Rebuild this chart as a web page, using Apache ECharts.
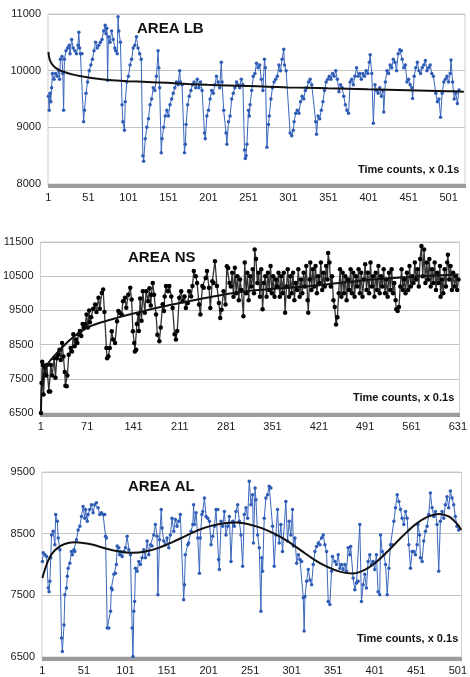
<!DOCTYPE html>
<html>
<head>
<meta charset="utf-8">
<script src="https://cdn.jsdelivr.net/npm/echarts@6/dist/echarts.min.js"></script>
<style>
html,body{margin:0;padding:0;background:#fff;}
#chart{width:470px;height:677px;}
</style>
</head>
<body>
<div id="chart"></div>
<script>
// ---- Panel 1: AREA LB ----
const lbCount = 521;
const lbTitle = 'AREA LB';
const lbYTicks = [8000, 9000, 10000, 11000];
const lbPoints = [[1,9550],[2,9300],[3,9600],[4,9450],[5,9700],[6,9950],[8,9850],[10,9950],[12,9900],[14,10000],[15,9850],[16,10200],[18,10250],[19,9950],[20,9300],[21,10200],[23,10350],[25,10400],[27,10450],[28,10300],[30,10550],[32,10400],[34,10350],[36,10300],[38,10450],[39,10680],[40,10400],[41,10300],[43,10300],
[45,9100],[46,9300],[48,9600],[50,9800],[52,10000],[54,10100],[56,10200],[58,10350],[60,10500],[62,10400],[64,10450],[66,10500],[68,10550],[70,10700],[72,10800],[73,10650],[74,10750],[75,9830],[76,10600],[78,10500],[80,10700],[82,10550],[84,10400],[85,10350],[87,10300],[88,10950],[89,10700],[91,10500],
[93,9400],[94,9100],[96,8950],[97,9450],[99,9800],[101,9900],[103,10100],[105,10200],[107,10400],[109,10450],[111,10600],[113,10400],[115,10300],[117,10200],
[119,8500],[120,8400],[122,8800],[124,9000],[126,9150],[128,9400],[130,9500],[132,9700],[134,9650],[136,9900],[138,10350],[139,10050],[140,9700],
[142,8550],[143,8800],[145,9000],[147,9200],[149,9300],[151,9200],[153,9400],[155,9500],[157,9600],[159,9700],[161,9800],[163,9750],[165,10000],[166,9800],[168,9750],
[171,8550],[172,8700],[173,9050],[175,9400],[177,9550],[179,9650],[181,9750],[183,9800],[185,9700],[187,9850],[189,9700],[191,9800],[193,9650],
[196,8900],[197,8800],[199,9200],[201,9300],[203,9500],[205,9650],[207,9600],[209,9750],[211,9900],[213,9800],[215,9700],[217,10150],[218,9800],[220,9300],
[223,8900],[224,8700],[226,9100],[228,9200],[230,9500],[232,9600],[234,9700],[236,9800],[238,9750],[240,9700],
[242,9850],[244,9750],[246,8600],[247,8450],[248,8500],[249,8700],[251,9300],[252,9200],[253,9400],[255,9650],[257,9900],[259,9950],[261,10130],[263,10050],[265,10100],[267,9850],[269,9650],[271,10200],[272,10050],[274,8650],[276,9050],[277,9200],[279,9500],[281,9700],[283,9800],[285,9850],[287,9900],[289,10100],[291,10000],[293,10200],[295,10380],[296,10100],[298,10000],
[303,8900],[305,8850],[307,8950],[308,9100],[310,9250],[312,9300],[314,9250],[316,9450],[318,9550],[320,9500],[322,9650],[324,9700],[326,9800],[328,9850],[330,9750],
[335,9100],[336,8880],[338,9200],[340,9150],[342,9300],[344,9450],[346,9650],[348,9800],[350,9850],[352,9900],[354,9850],[356,9950],[358,9900],[360,10000],[362,9850],[364,9630],
[366,9750],[368,9700],[370,9550],[372,9400],[374,9300],[376,9250],[378,9800],[380,9850],[382,9750],[384,9900],[386,10050],[388,9900],[390,9950],[392,9850],[394,9950],[396,9900],[398,10000],[400,9950],[402,10150],[403,10280],[405,9950],
[407,9070],[409,9750],[411,9650],[413,9600],[415,9700],[417,9550],[419,9650],[420,9270],[422,9800],[424,10000],[426,9950],[428,10100],[430,10050],[432,10200],[434,10150],[436,10000],[438,10300],[440,10370],[442,10350],[443,10200],[445,10050],[447,10100],
[449,9800],[451,9850],[453,9750],[455,9700],[456,9510],[458,9900],[460,10050],[462,10150],[464,10000],[466,9950],[468,10050],[470,10100],[472,10180],[474,10000],[476,10050],[478,10100],[480,9950],[482,9900],
[485,9600],[487,9450],[489,9500],[491,9180],[493,9600],[495,9800],[497,9850],[499,9900],[501,9800],[503,9950],[504,10190],[506,9800],
[508,9500],[510,9600],[512,9420],[514,9660]];
const lbTrend = [[1,10330],[2,10230],[4,10150],[7,10090],[10,10050],[15,10010],[20,9980],[32,9930],[45,9895],[60,9860],[80,9830],[100,9815],[125,9800],[150,9785],[175,9765],[200,9750],[225,9738],[250,9728],[275,9718],[300,9705],[325,9697],[350,9688],[375,9680],[400,9670],[425,9662],[450,9655],[475,9647],[500,9638],[520,9630]];

// ---- Panel 2: AREA NS ----
const nsCount = 633;
const nsTitle = 'AREA NS';
const nsYTicks = [6500, 7500, 8500, 9500, 10500, 11500];
const nsPoints = [[1,6500],[2,7380],[3,8000],[4,7900],[5,7040],[7,7820],[9,7600],[10,7900],[13,7130],[15,7130],[16,7900],[18,7600],[21,8100],[23,7530],[25,8100],[27,8200],[29,8350],[31,8050],[33,8550],[35,8150],[37,7700],[38,7300],[40,7280],[41,7600],[43,8200],[46,8400],[48,8300],[50,8800],[52,8450],[54,8650],[56,8550],[58,8800],[60,8900],[62,8750],[64,9100],[66,9000],[68,9100],[70,9380],[72,9000],[74,9500],[75,9150],[77,9300],[80,9550],[83,9670],[85,9450],[88,9870],[90,9550],[93,10010],[95,10110],[97,9450],
[100,8400],[101,8100],[103,8160],[105,8400],[108,8890],[110,8650],[113,8550],[116,9180],[118,9480],[120,9430],[123,9380],[125,9770],[128,9870],[130,9580],[133,9960],[136,10160],[138,9820],
[140,8890],[142,8550],[143,8300],[145,8350],[146,9100],[148,9400],[149,8900],[151,9850],[153,9200],[155,10060],[158,9430],[160,10060],[163,9770],[165,10150],[167,9640],[168,9960],[170,10300],[172,9960],
[175,9380],[177,8790],[180,8600],[182,9000],[185,9680],[187,9480],[188,9910],[190,10210],[193,10060],[195,10210],[198,9910],[200,9570],
[203,8800],[205,8650],[207,8900],[210,9870],[213,10060],[215,9770],[218,9910],[220,9570],[223,9720],[225,10060],[228,9910],[230,10210],[232,10650],[235,10500],[237,10300],[240,9670],[242,9380],[245,10210],[247,10160],[250,10450],[252,10650],[255,10160],[257,9570],[260,10350],[262,10300],[264,10940],[267,10210],[270,9720],[272,9280],[274,9520],[277,10060],[280,9670],[282,10790],[284,10740],
[286,10300],[288,10200],[290,10600],[292,9900],[294,10750],[296,10000],[298,10500],[300,9800],[302,10400],[304,10100],[307,9330],[309,10900],[311,10000],[313,10600],[315,9800],[317,10500],[319,10200],[321,10700],[323,10000],[324,11280],[326,11000],[328,10300],[330,10600],[332,9900],[334,10700],[336,9530],[338,10300],[340,10500],[342,9900],[344,10600],[346,10100],[348,10800],[350,10000],[352,10500],[354,9900],[356,10400],[358,10200],[360,10600],[362,9900],[364,10500],[366,10000],[368,10600],[370,9430],[372,10200],[374,10700],[376,9900],[378,10500],[380,10000],[382,10600],[384,9800],[386,10300],[388,10100],[390,10700],[392,9900],[394,10400],[396,10000],[398,10600],[400,10200],[402,10800],[404,9800],[405,9430],[407,10400],[408,10900],[410,10100],[412,10700],[414,10200],[416,10800],[418,10000],[420,10500],[422,10300],[424,10900],[426,10100],[428,10600],[430,10200],[432,10800],[434,10400],[435,11180],[437,10900],[439,10200],[441,10500],[443,9800],[445,9600],[447,9090],[449,9300],[451,10000],[453,10700],[455,9900],[457,10600],[459,10000],[461,10500],[463,9800],[465,10400],[467,10100],[469,10700],[471,10000],[473,10600],[475,9900],[477,10500],[479,10200],[481,10700],[483,10000],[485,10600],[487,9900],[489,10400],[491,10850],[493,10100],[495,10600],[497,10000],[499,10900],[501,10200],[503,10500],[505,9900],[507,10600],[509,10100],[511,10800],[513,10000],[515,10500],[517,10200],[519,10700],[521,10000],[523,10400],[525,9900],[527,10600],[529,10100],[531,10700],[533,10000],[535,10300],[537,9800],[538,9530],[540,9480],[542,9600],[544,10200],[546,10700],[548,10100],[550,10400],[552,10000],[554,10600],[556,10100],[558,10800],[560,10200],[562,10500],[564,10300],[566,10900],[568,10400],[570,10700],[572,10200],[574,11000],[576,11380],[578,10500],[580,11280],[582,10300],[584,10900],[586,10400],[588,11000],[590,10200],[592,10700],[594,10300],[596,10900],[598,10100],[600,10600],[602,10300],[604,10800],[605,9900],[607,10400],[609,10000],[611,10700],[613,10200],[615,10900],[616,11130],[618,10400],[620,10800],[622,10100],[624,10600],[626,10200],[628,10500],[630,10100],[632,10400]];
const nsTrend = [[1,6500],[2,7150],[3,7400],[5,7600],[8,7800],[12,7950],[18,8100],[25,8250],[32,8400],[40,8550],[50,8720],[60,8860],[75,9030],[90,9140],[110,9250],[130,9360],[150,9450],[170,9550],[200,9670],[230,9790],[260,9900],[290,10000],[320,10080],[350,10130],[380,10170],[410,10210],[440,10280],[470,10340],[500,10400],[530,10440],[560,10480],[590,10510],[632,10550]];

// ---- Panel 3: AREA AL ----
const alCount = 505;
const alTitle = 'AREA AL';
const alYTicks = [6500, 7500, 8500, 9500];
const alPoints = [[1,8050],[2,8190],[4,8160],[6,8130],[8,7620],[9,7560],[10,7730],[11,8110],[12,8480],[14,8540],[16,8320],[17,8810],[19,8700],[20,8430],[22,8240],
[24,6810],[25,6590],[27,7020],[28,7510],[30,7620],[31,7810],[32,7940],[34,8020],[36,8210],[37,8160],[39,8240],[40,8210],[42,8400],[44,8560],[46,8620],[48,8780],[50,8940],[52,8750],[53,8890],[55,8700],[56,8810],[58,8890],[60,8970],[62,8840],[64,8970],[66,9000],[68,8920],[70,8810],[72,8840],[74,8810],[76,8810],[77,8460],[78,8430],
[79,6970],[81,6970],[83,7240],[84,7620],[85,7590],[87,7840],[89,7860],[90,8000],[91,8300],[93,8270],[94,8160],[95,8210],[97,8130],[99,8210],[101,8270],[103,8460],[105,8240],[107,8160],
[109,6970],[110,6510],[111,7240],[112,7400],[113,7940],[115,7890],[117,8050],[119,8000],[121,8110],[123,8240],[125,8110],[127,8380],[129,8160],[131,8320],[133,8300],[135,8480],[137,8650],[139,8460],[140,7510],[142,8400],[144,8890],[145,8590],[147,8380],[149,8320],[151,8430],[153,8270],[155,8480],[157,8750],[159,8540],[161,8730],[163,8620],[165,8700],[167,8810],
[171,7430],[172,7670],[173,8160],[176,8320],[177,8350],[180,8540],[182,8650],[183,8970],[184,8650],[186,8840],[188,8430],[190,7860],[191,8430],[193,8810],[194,8860],[196,9080],[198,8780],[200,8750],[202,8700],[204,8320],[206,8460],[208,8620],[210,8890],[212,8890],[213,8080],[214,7920],[216,8700],[218,8620],[220,8860],[222,8480],[224,8620],
[226,8780],[228,8050],[230,8700],[232,8620],[234,8860],[236,8970],[238,8700],[240,8480],[242,7970],[244,8810],[246,8920],[248,8750],[250,9350],[252,8970],[254,9130],[255,8350],[257,9240],[258,9050],[260,8480],[262,8270],[264,7240],[265,8110],[266,7890],[268,8750],[270,9080],[272,9130],[274,9270],[276,9240],[278,8620],[280,7970],[282,8480],[284,8890],[286,8350],[288,8650],[290,8210],[294,9020],[296,8380],[298,8700],[300,8480],[302,8890],[303,8300],[305,8430],[307,8020],[309,8160],[311,8080],[313,8050],
[315,7460],[316,6920],[317,7480],[319,7730],[321,7920],[323,7750],[325,7670],[327,8000],[329,8210],[331,8290],[333,8350],[335,8320],[337,8430],[339,8480],[341,8320],[343,8210],[345,7400],[347,7350],[349,7890],[350,8130],[353,8050],[355,8000],[357,8160],[359,7940],[361,8000],[363,7920],[365,8000],[367,7890],[369,8270],[371,8160],[372,8290],
[375,7780],[377,7590],[379,7700],[381,7730],[383,8650],[385,7400],[387,7670],[389,7840],[391,7620],[393,8050],[395,8160],[397,8000],[399,8050],[401,7920],[403,8160],[405,7560],[407,7510],[408,8480],[410,8210],[412,8160],[414,8000],[416,7510],[418,7940],[420,8320],[422,8320],[424,8700],[426,8920],[428,9130],[430,9020],[432,8890],[434,8750],[436,8650],[438,8860],[440,8750],[442,8320],[444,7940],[446,8210],[448,8210],[450,8160],[452,8320],[453,8650],[455,8480],[456,8110],[458,8050],[460,8380],[462,8540],[464,8620],[466,8810],[468,9160],[470,8920],[472,8780],[474,8860],[476,8650],[478,7890],[480,8700],[482,8860],[484,8750],[486,8970],[488,9100],[490,8920],[492,9190],[494,9080],[496,8970],[498,8780],[500,8620],[502,8560]];
const alTrend = [[1,7780],[5,7960],[10,8120],[16,8230],[24,8310],[32,8350],[40,8360],[50,8350],[62,8320],[77,8260],[93,8210],[109,8190],[125,8210],[141,8270],[157,8360],[173,8460],[189,8560],[205,8630],[220,8670],[235,8680],[250,8650],[265,8590],[280,8500],[296,8380],[312,8230],[328,8080],[344,7960],[360,7880],[375,7855],[390,7920],[405,8065],[420,8260],[435,8465],[450,8650],[465,8775],[478,8820],[490,8780],[500,8660],[505,8560]];

const xAxisNote = 'Time counts, x 0.1s';

// ---- build ----
const FONT = '"Liberation Sans", Arial, sans-serif';
function cats(n){ return Array.from({length:n}, (_, i) => String(i + 1)); }
function toIdx(arr){ return arr.map(p => [p[0] - 1, p[1]]); }

const panels = [
  {count: lbCount, ticks: lbYTicks, pts: lbPoints, trend: lbTrend, labelEvery: 50,
   grid: {left: 48, top: 14, width: 417, height: 170}, color: '#3a66bd', mcolor: '#2f5db5', lineW: 1, sym: 3.5},
  {count: nsCount, ticks: nsYTicks, pts: nsPoints, trend: nsTrend, labelEvery: 70,
   grid: {left: 40, top: 242, width: 422, height: 171}, color: '#333', mcolor: '#000', lineW: 1.3, sym: 4.5},
  {count: alCount, ticks: alYTicks, pts: alPoints, trend: alTrend, labelEvery: 50,
   grid: {left: 42, top: 472, width: 425, height: 185}, color: '#3a66bd', mcolor: '#2f5db5', lineW: 1, sym: 3.5}
];

const grid = [], xAxis = [], yAxis = [], series = [];
panels.forEach((p, i) => {
  grid.push(Object.assign({show: true, borderColor: '#cfcfcf', borderWidth: 1, backgroundColor: '#fff'}, p.grid));
  xAxis.push({
    type: 'category', gridIndex: i, data: cats(p.count), boundaryGap: true,
    axisLine: {show: true, lineStyle: {color: '#999', width: 1}},
    axisTick: {show: true, interval: 0, length: 4, lineStyle: {color: '#9c9c9c', width: 1}},
    axisLabel: {interval: p.labelEvery - 1, color: '#1a1a1a', fontSize: 11, fontFamily: FONT, margin: 8, hideOverlap: false},
    splitLine: {show: false}
  });
  yAxis.push({
    type: 'value', gridIndex: i, min: p.ticks[0], max: p.ticks[p.ticks.length - 1],
    interval: p.ticks[1] - p.ticks[0],
    axisLine: {show: false}, axisTick: {show: false},
    axisLabel: {color: '#1a1a1a', fontSize: 11, fontFamily: FONT, margin: 7, formatter: v => String(v)},
    splitLine: {show: true, lineStyle: {color: '#c4c4c4', width: 1}}
  });
  series.push({
    type: 'line', xAxisIndex: i, yAxisIndex: i, data: toIdx(p.pts),
    showSymbol: true, showAllSymbol: true, symbol: 'circle', symbolSize: p.sym,
    itemStyle: {color: p.mcolor}, lineStyle: {color: p.color, width: p.lineW},
    sampling: null, animation: false, silent: true, z: 2
  });
  series.push({
    type: 'line', xAxisIndex: i, yAxisIndex: i, data: toIdx(p.trend),
    showSymbol: false, smooth: 0.35,
    lineStyle: {color: '#111', width: 2}, animation: false, silent: true, z: 3
  });
});

const graphic = [
  {type: 'text', x: 137, y: 29, style: {text: lbTitle, font: 'bold 15px ' + FONT, fill: '#111', verticalAlign: 'middle'}, z: 10},
  {type: 'text', x: 128, y: 258, style: {text: nsTitle, font: 'bold 15px ' + FONT, fill: '#111', verticalAlign: 'middle'}, z: 10},
  {type: 'text', x: 128, y: 487, style: {text: alTitle, font: 'bold 15px ' + FONT, fill: '#111', verticalAlign: 'middle'}, z: 10},
  {type: 'text', x: 358, y: 170, style: {text: xAxisNote, font: 'bold 11px ' + FONT, fill: '#111', verticalAlign: 'middle'}, z: 10},
  {type: 'text', x: 353, y: 398, style: {text: xAxisNote, font: 'bold 11px ' + FONT, fill: '#111', verticalAlign: 'middle'}, z: 10},
  {type: 'text', x: 357, y: 639, style: {text: xAxisNote, font: 'bold 11px ' + FONT, fill: '#111', verticalAlign: 'middle'}, z: 10}
];

const chart = echarts.init(document.getElementById('chart'), null, {renderer: 'canvas'});
chart.setOption({backgroundColor: '#fff', animation: false, grid, xAxis, yAxis, series, graphic});
</script>
</body>
</html>
